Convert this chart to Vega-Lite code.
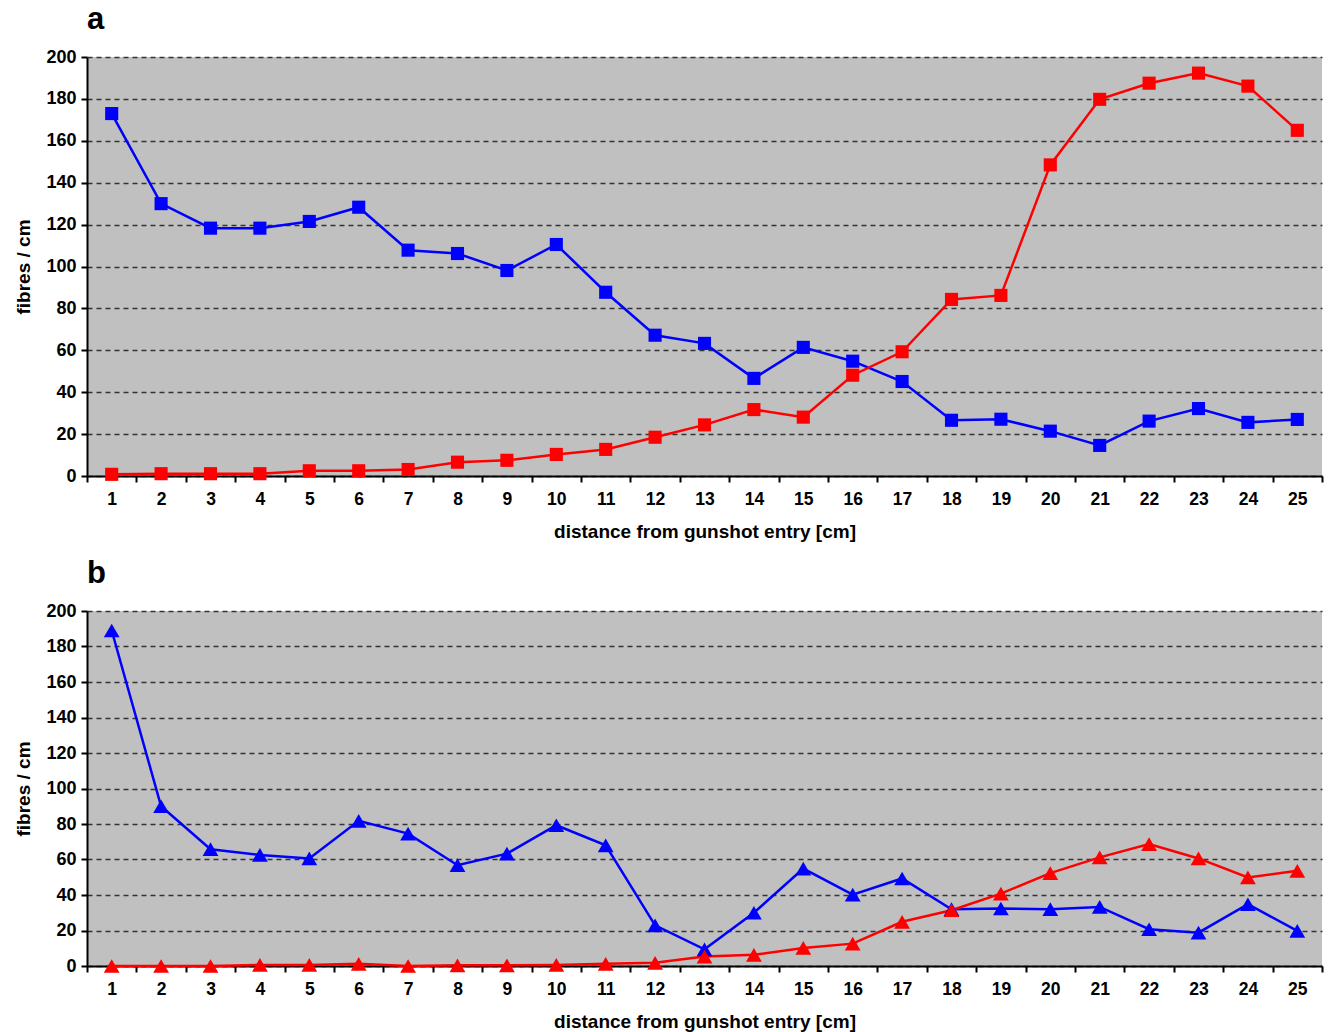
{
  "$schema": "https://vega.github.io/schema/vega-lite/v6.json",
  "background": "white",
  "padding": {"left": 14, "top": 4, "right": 5, "bottom": 0},
  "spacing": 16,
  "config": {
    "font": "Liberation Sans",
    "view": {"fill": "#C0C0C0", "stroke": null},
    "axis": {
      "labelFont": "Liberation Sans", "labelFontWeight": "bold", "labelFontSize": 17.5, "labelColor": "black",
      "titleFont": "Liberation Sans", "titleFontWeight": "bold", "titleFontSize": 19, "titleColor": "black",
      "domainColor": "black", "domainWidth": 2, "tickColor": "black", "tickWidth": 2, "tickSize": 6
    },
    "title": {"anchor": "start", "frame": "group", "fontSize": 31, "fontWeight": "bold", "color": "black", "font": "Liberation Sans", "offset": 12}
  },
  "datasets": {
    "a": [
      {"distance": 1, "series": "S1", "fibres": 173}, {"distance": 2, "series": "S1", "fibres": 130}, {"distance": 3, "series": "S1", "fibres": 118.3},
      {"distance": 4, "series": "S1", "fibres": 118.3}, {"distance": 5, "series": "S1", "fibres": 121.5}, {"distance": 6, "series": "S1", "fibres": 128.3},
      {"distance": 7, "series": "S1", "fibres": 107.8}, {"distance": 8, "series": "S1", "fibres": 106.2}, {"distance": 9, "series": "S1", "fibres": 98.1},
      {"distance": 10, "series": "S1", "fibres": 110.5}, {"distance": 11, "series": "S1", "fibres": 87.7}, {"distance": 12, "series": "S1", "fibres": 67.2},
      {"distance": 13, "series": "S1", "fibres": 63.3}, {"distance": 14, "series": "S1", "fibres": 46.6}, {"distance": 15, "series": "S1", "fibres": 61.4},
      {"distance": 16, "series": "S1", "fibres": 54.8}, {"distance": 17, "series": "S1", "fibres": 45.1}, {"distance": 18, "series": "S1", "fibres": 26.6},
      {"distance": 19, "series": "S1", "fibres": 27.1}, {"distance": 20, "series": "S1", "fibres": 21.4}, {"distance": 21, "series": "S1", "fibres": 14.6},
      {"distance": 22, "series": "S1", "fibres": 26.2}, {"distance": 23, "series": "S1", "fibres": 32.2}, {"distance": 24, "series": "S1", "fibres": 25.6},
      {"distance": 25, "series": "S1", "fibres": 27},
      {"distance": 1, "series": "S2", "fibres": 0.8}, {"distance": 2, "series": "S2", "fibres": 1.1}, {"distance": 3, "series": "S2", "fibres": 1.1},
      {"distance": 4, "series": "S2", "fibres": 1.1}, {"distance": 5, "series": "S2", "fibres": 2.5}, {"distance": 6, "series": "S2", "fibres": 2.5},
      {"distance": 7, "series": "S2", "fibres": 3.1}, {"distance": 8, "series": "S2", "fibres": 6.6}, {"distance": 9, "series": "S2", "fibres": 7.5},
      {"distance": 10, "series": "S2", "fibres": 10.3}, {"distance": 11, "series": "S2", "fibres": 12.7}, {"distance": 12, "series": "S2", "fibres": 18.5},
      {"distance": 13, "series": "S2", "fibres": 24.4}, {"distance": 14, "series": "S2", "fibres": 31.7}, {"distance": 15, "series": "S2", "fibres": 28.1},
      {"distance": 16, "series": "S2", "fibres": 48.1}, {"distance": 17, "series": "S2", "fibres": 59.3}, {"distance": 18, "series": "S2", "fibres": 84.3},
      {"distance": 19, "series": "S2", "fibres": 86.2}, {"distance": 20, "series": "S2", "fibres": 148.5}, {"distance": 21, "series": "S2", "fibres": 179.8},
      {"distance": 22, "series": "S2", "fibres": 187.5}, {"distance": 23, "series": "S2", "fibres": 192.3}, {"distance": 24, "series": "S2", "fibres": 186.1},
      {"distance": 25, "series": "S2", "fibres": 165}
    ],
    "b": [
      {"distance": 1, "series": "S1", "fibres": 189}, {"distance": 2, "series": "S1", "fibres": 90}, {"distance": 3, "series": "S1", "fibres": 65.8},
      {"distance": 4, "series": "S1", "fibres": 62.6}, {"distance": 5, "series": "S1", "fibres": 60.6}, {"distance": 6, "series": "S1", "fibres": 81.8},
      {"distance": 7, "series": "S1", "fibres": 74.6}, {"distance": 8, "series": "S1", "fibres": 56.8}, {"distance": 9, "series": "S1", "fibres": 63.3},
      {"distance": 10, "series": "S1", "fibres": 79.3}, {"distance": 11, "series": "S1", "fibres": 68}, {"distance": 12, "series": "S1", "fibres": 22.9},
      {"distance": 13, "series": "S1", "fibres": 9.4}, {"distance": 14, "series": "S1", "fibres": 30}, {"distance": 15, "series": "S1", "fibres": 54.9},
      {"distance": 16, "series": "S1", "fibres": 40.2}, {"distance": 17, "series": "S1", "fibres": 49.3}, {"distance": 18, "series": "S1", "fibres": 32},
      {"distance": 19, "series": "S1", "fibres": 32.4}, {"distance": 20, "series": "S1", "fibres": 32}, {"distance": 21, "series": "S1", "fibres": 33.3},
      {"distance": 22, "series": "S1", "fibres": 20.7}, {"distance": 23, "series": "S1", "fibres": 18.8}, {"distance": 24, "series": "S1", "fibres": 34.8},
      {"distance": 25, "series": "S1", "fibres": 19.8},
      {"distance": 1, "series": "S2", "fibres": 0}, {"distance": 2, "series": "S2", "fibres": 0}, {"distance": 3, "series": "S2", "fibres": 0},
      {"distance": 4, "series": "S2", "fibres": 0.6}, {"distance": 5, "series": "S2", "fibres": 0.6}, {"distance": 6, "series": "S2", "fibres": 1.2},
      {"distance": 7, "series": "S2", "fibres": 0}, {"distance": 8, "series": "S2", "fibres": 0.4}, {"distance": 9, "series": "S2", "fibres": 0.4},
      {"distance": 10, "series": "S2", "fibres": 0.6}, {"distance": 11, "series": "S2", "fibres": 1.2}, {"distance": 12, "series": "S2", "fibres": 1.8},
      {"distance": 13, "series": "S2", "fibres": 5.3}, {"distance": 14, "series": "S2", "fibres": 6.3}, {"distance": 15, "series": "S2", "fibres": 10.2},
      {"distance": 16, "series": "S2", "fibres": 12.6}, {"distance": 17, "series": "S2", "fibres": 24.9}, {"distance": 18, "series": "S2", "fibres": 31.4},
      {"distance": 19, "series": "S2", "fibres": 40.8}, {"distance": 20, "series": "S2", "fibres": 52.3}, {"distance": 21, "series": "S2", "fibres": 61.2},
      {"distance": 22, "series": "S2", "fibres": 68.7}, {"distance": 23, "series": "S2", "fibres": 60.6}, {"distance": 24, "series": "S2", "fibres": 49.9},
      {"distance": 25, "series": "S2", "fibres": 53.6}
    ]
  },
  "vconcat": [
    {
      "title": "a",
      "width": 1235,
      "height": 419,
      "data": {"name": "a"},
      "encoding": {
        "x": {"field": "distance", "type": "ordinal", "scale": {"type": "band", "paddingInner": 0, "paddingOuter": 0}, "bandPosition": 0.5,
              "axis": {"title": "distance from gunshot entry [cm]", "labelAngle": 0, "tickBand": "extent", "grid": false, "labelPadding": 8, "titlePadding": 15}},
        "y": {"field": "fibres", "type": "quantitative", "scale": {"domain": [0, 200], "nice": false},
              "axis": {"title": "fibres / cm", "values": [0, 20, 40, 60, 80, 100, 120, 140, 160, 180, 200], "grid": true, "gridDash": [5, 4], "gridColor": "#333333", "gridWidth": 1.3, "labelPadding": 5, "titlePadding": 12, "labelFontSize": 18}},
        "color": {"field": "series", "type": "nominal", "scale": {"domain": ["S1", "S2"], "range": ["#0000FF", "#FF0000"]}, "legend": null}
      },
      "layer": [
        {"mark": {"type": "line", "strokeWidth": 2.5}},
        {"mark": {"type": "point", "shape": "square", "filled": true, "opacity": 1, "size": 172}}
      ]
    },
    {
      "title": "b",
      "width": 1235,
      "height": 355,
      "data": {"name": "b"},
      "encoding": {
        "x": {"field": "distance", "type": "ordinal", "scale": {"type": "band", "paddingInner": 0, "paddingOuter": 0}, "bandPosition": 0.5,
              "axis": {"title": "distance from gunshot entry [cm]", "labelAngle": 0, "tickBand": "extent", "grid": false, "labelPadding": 8, "titlePadding": 15}},
        "y": {"field": "fibres", "type": "quantitative", "scale": {"domain": [0, 200], "nice": false},
              "axis": {"title": "fibres / cm", "values": [0, 20, 40, 60, 80, 100, 120, 140, 160, 180, 200], "grid": true, "gridDash": [5, 4], "gridColor": "#333333", "gridWidth": 1.3, "labelPadding": 5, "titlePadding": 12, "labelFontSize": 18}},
        "color": {"field": "series", "type": "nominal", "scale": {"domain": ["S1", "S2"], "range": ["#0000FF", "#FF0000"]}, "legend": null}
      },
      "layer": [
        {"mark": {"type": "line", "strokeWidth": 2.5}},
        {"mark": {"type": "point", "shape": "triangle-up", "filled": true, "opacity": 1, "size": 250}}
      ]
    }
  ]
}
